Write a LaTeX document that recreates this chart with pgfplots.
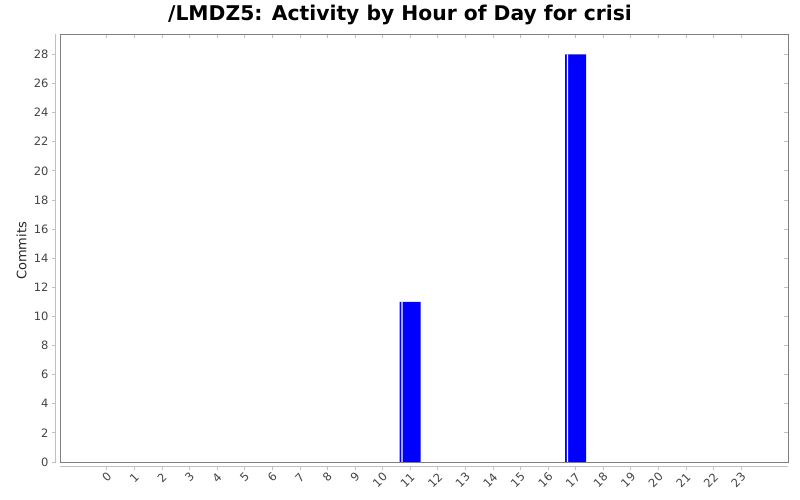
\documentclass[border=0pt]{standalone}
\usepackage{fontspec}
\setmainfont{DejaVu Sans}
\usepackage{pgfplots}
\pgfplotsset{compat=1.18}
\definecolor{bargray}{RGB}{128,128,128}
\definecolor{axgray}{RGB}{192,192,192}
\definecolor{ticktext}{RGB}{68,68,68}
\begin{document}
\begin{tikzpicture}
\path[use as bounding box] (-60pt,-38pt) rectangle (740pt,462pt);
\begin{axis}[
    scale only axis,
    width=728pt, height=428pt,
    xmin=-1.7, xmax=24.7,
    ymin=0, ymax=29.4,
    axis line style={draw=bargray, line width=0.9pt},
    xtick={0,...,23},
    ytick={0,2,...,28},
    tick align=outside,
    major tick length=4pt,
    xtick style={draw=axgray, line width=0.8pt, yshift=-4pt},
    ytick style={draw=axgray, line width=0.8pt, xshift=-4pt},
    xticklabel style={rotate=45, anchor=east, font=\fontsize{11.5pt}{13pt}\selectfont, text=ticktext, xshift=-1pt, yshift=-8pt},
    yticklabel style={font=\fontsize{11.5pt}{13pt}\selectfont, text=ticktext, xshift=-4pt},
    /pgf/number format/assume math mode=true,
    ylabel={Commits},
    ylabel style={at={(axis description cs:-0.053,0.493)}, anchor=center, rotate=0, font=\fontsize{13pt}{15pt}\selectfont, text=black!85},
    title={/LMDZ5: Activity by Hour of Day for crisi},
    title style={at={(axis description cs:0.467,1.0164)}, anchor=base, font=\fontsize{20.3pt}{22pt}\selectfont\bfseries},
    clip=false,
]
\addplot[ybar, bar width=21pt, bar shift=0pt, fill=blue, draw=none] coordinates {
    (11,11) (17,28)
};
\addplot[ybar, bar width=1.3pt, bar shift=-8.2pt, fill=white, draw=none] coordinates {
    (11,11) (17,28)
};
\draw[axgray, line width=0.8pt] ([xshift=-5pt]rel axis cs:0,0) -- ([xshift=-5pt]rel axis cs:0,1);
\draw[axgray, line width=0.8pt] ([yshift=-4pt]rel axis cs:0,0) -- ([yshift=-4pt]rel axis cs:1,0);
\end{axis}
\end{tikzpicture}
\end{document}
